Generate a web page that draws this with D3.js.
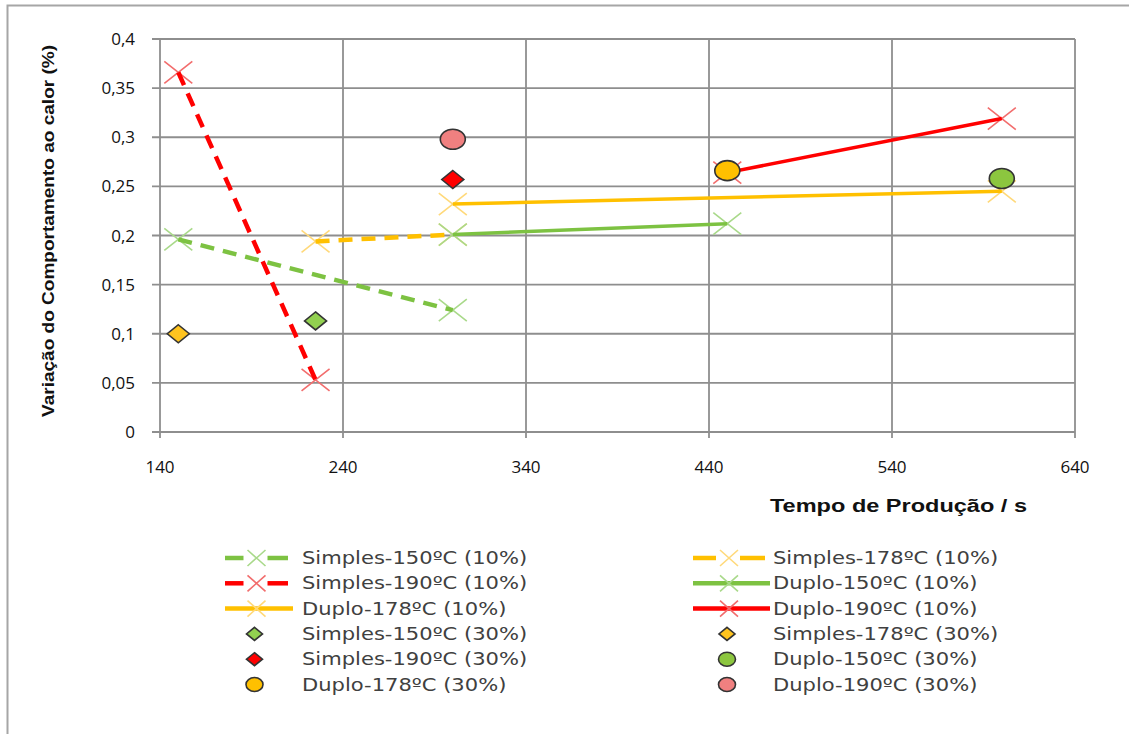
<!DOCTYPE html>
<html>
<head>
<meta charset="utf-8">
<script src="https://cdn.jsdelivr.net/npm/d3@7"></script>
<style>
  html, body { margin: 0; padding: 0; background: #fff; }
  svg { display: block; }
</style>
</head>
<body>
<div id="chart-container"></div>
<script>
// x / y ticks
const xTicks = [140, 240, 340, 440, 540, 640];
const yTicks = [0, 0.05, 0.1, 0.15, 0.2, 0.25, 0.3, 0.35, 0.4];
const yTickLabels = ['0', '0,05', '0,1', '0,15', '0,2', '0,25', '0,3', '0,35', '0,4'];

// 10% series (lines with X markers) - [tempo, variacao]
const simples150_10 = [[150, 0.196], [300, 0.124]];
const simples178_10 = [[225, 0.194], [300, 0.201]];
const simples190_10 = [[150, 0.366], [225, 0.053]];
const duplo150_10 = [[300, 0.201], [450, 0.212]];
const duplo178_10 = [[300, 0.232], [600, 0.245]];
const duplo190_10 = [[450, 0.264], [600, 0.319]];

// 30% series (single points)
const simples150_30 = [[225, 0.113]];
const simples178_30 = [[150, 0.100]];
const simples190_30 = [[300, 0.257]];
const duplo150_30 = [[600, 0.258]];
const duplo178_30 = [[450, 0.266]];
const duplo190_30 = [[300, 0.298]];

const seriesNames = [
    'Simples-150ºC (10%)', 'Simples-178ºC (10%)', 'Simples-190ºC (10%)',
    'Duplo-150ºC (10%)', 'Duplo-178ºC (10%)', 'Duplo-190ºC (10%)',
    'Simples-150ºC (30%)', 'Simples-178ºC (30%)', 'Simples-190ºC (30%)',
    'Duplo-150ºC (30%)', 'Duplo-178ºC (30%)', 'Duplo-190ºC (30%)'
];

const GREEN = '#7dc242', ORANGE = '#ffc000', RED = '#ff0000';

// series table (style per series)
const series = [
    { name: seriesNames[0], data: simples150_10, type: 'line', color: GREEN, xColor: '#a9d98a', dash: '14,9' },
    { name: seriesNames[1], data: simples178_10, type: 'line', color: ORANGE, xColor: '#ffd97a', dash: '14,9' },
    { name: seriesNames[2], data: simples190_10, type: 'line', color: RED, xColor: '#f26d6d', dash: '14,9' },
    { name: seriesNames[3], data: duplo150_10, type: 'line', color: GREEN, xColor: '#a9d98a', dash: null },
    { name: seriesNames[4], data: duplo178_10, type: 'line', color: ORANGE, xColor: '#ffd97a', dash: null },
    { name: seriesNames[5], data: duplo190_10, type: 'line', color: RED, xColor: '#f26d6d', dash: null },
    { name: seriesNames[6], data: simples150_30, type: 'diamond', color: '#92d050' },
    { name: seriesNames[7], data: simples178_30, type: 'diamond', color: '#ffc41f' },
    { name: seriesNames[8], data: simples190_30, type: 'diamond', color: '#ff0000' },
    { name: seriesNames[9], data: duplo150_30, type: 'circle', color: '#8cc63f' },
    { name: seriesNames[10], data: duplo178_30, type: 'circle', color: '#ffc000' },
    { name: seriesNames[11], data: duplo190_30, type: 'circle', color: '#f08080' }
];

const width = 1129, height = 734;
const plot = { left: 160, right: 1075, top: 39, bottom: 432 };

const svg = d3.select('#chart-container')
    .append('svg')
    .attr('width', width)
    .attr('height', height);

// outer frame (only top and left visible)
svg.append('path')
    .attr('d', `M7.5,740 V5.5 H1140`)
    .attr('fill', 'none')
    .attr('stroke', '#a6a6a6')
    .attr('stroke-width', 2);

const x = d3.scaleLinear().domain([140, 640]).range([plot.left, plot.right]);
const y = d3.scaleLinear().domain([0, 0.4]).range([plot.bottom, plot.top]);

const g = svg.append('g');

// grid lines
const gridColor = '#8e8e8e';
g.append('g')
    .selectAll('line')
    .data(yTicks)
    .enter()
    .append('line')
    .attr('x1', plot.left - 8)
    .attr('x2', plot.right)
    .attr('y1', d => y(d))
    .attr('y2', d => y(d))
    .attr('stroke', gridColor)
    .attr('stroke-width', 1.8);

g.append('g')
    .selectAll('line')
    .data(xTicks)
    .enter()
    .append('line')
    .attr('x1', d => x(d))
    .attr('x2', d => x(d))
    .attr('y1', plot.top)
    .attr('y2', plot.bottom + 6)
    .attr('stroke', gridColor)
    .attr('stroke-width', 1.8);

// tick labels
const tickFont = '"Open Sans", "Liberation Sans", sans-serif';
g.append('g')
    .selectAll('text')
    .data(yTicks)
    .enter()
    .append('text')
    .attr('x', plot.left - 25)
    .attr('y', d => y(d) + 6)
    .attr('text-anchor', 'end')
    .style('font-family', tickFont)
    .style('font-size', '17px')
    .style('fill', '#111')
    .text((d, i) => yTickLabels[i]);

g.append('g')
    .selectAll('text')
    .data(xTicks)
    .enter()
    .append('text')
    .attr('x', d => x(d))
    .attr('y', 473)
    .attr('text-anchor', 'middle')
    .style('font-family', tickFont)
    .style('font-size', '17px')
    .style('fill', '#111')
    .text(d => d);

// axis titles
svg.append('text')
    .attr('transform', 'translate(54,231) rotate(-90)')
    .attr('text-anchor', 'middle')
    .attr('textLength', 372)
    .attr('lengthAdjust', 'spacingAndGlyphs')
    .style('font-family', '"Liberation Sans", Arial, sans-serif')
    .style('font-weight', 'bold')
    .style('font-size', '17px')
    .style('fill', '#111')
    .text('Variação do Comportamento ao calor (%)');

svg.append('text')
    .attr('x', 770)
    .attr('y', 512)
    .attr('textLength', 257)
    .attr('lengthAdjust', 'spacingAndGlyphs')
    .style('font-family', '"Liberation Sans", Arial, sans-serif')
    .style('font-weight', 'bold')
    .style('font-size', '18px')
    .style('fill', '#111')
    .text('Tempo de Produção  / s');

// marker helpers
function xMarker(sel, cx, cy, w, h, color) {
    sel.append('path')
        .attr('d', `M${cx - w},${cy - h} L${cx + w},${cy + h} M${cx - w},${cy + h} L${cx + w},${cy - h}`)
        .attr('fill', 'none')
        .attr('stroke', color)
        .attr('stroke-width', 1.6);
}
function diamond(sel, cx, cy, w, h, color) {
    sel.append('path')
        .attr('d', `M${cx},${cy - h} L${cx + w},${cy} L${cx},${cy + h} L${cx - w},${cy} Z`)
        .attr('fill', color)
        .attr('stroke', '#333')
        .attr('stroke-width', 1.6);
}
function ellipse(sel, cx, cy, rx, ry, color) {
    sel.append('ellipse')
        .attr('cx', cx)
        .attr('cy', cy)
        .attr('rx', rx)
        .attr('ry', ry)
        .attr('fill', color)
        .attr('stroke', '#333')
        .attr('stroke-width', 1.6);
}

const line = d3.line()
    .x(d => x(d[0]))
    .y(d => y(d[1]));

// lines with X markers
const lineSeries = series.filter(s => s.type === 'line');
lineSeries.forEach(s => {
    s.data.forEach(d => xMarker(g, x(d[0]), y(d[1]), 14, 11, s.xColor));
});
lineSeries.forEach(s => {
    g.append('path')
        .datum(s.data)
        .attr('fill', 'none')
        .attr('stroke', s.color)
        .attr('stroke-width', s.dash ? 4.5 : 3.5)
        .attr('stroke-dasharray', s.dash)
        .attr('d', line);
});

// point series
series.filter(s => s.type !== 'line').forEach(s => {
    s.data.forEach(d => {
        if (s.type === 'diamond') diamond(g, x(d[0]), y(d[1]), 11, 9, s.color);
        else ellipse(g, x(d[0]), y(d[1]), 12.5, 10, s.color);
    });
});

// legend (two columns, row-major)
const legend = svg.append('g');
const colSym = [[225, 288], [693, 765]];
const colText = [302, 773];
const rowY = i => 558 + i * 25.3;

series.forEach((s, i) => {
    const col = i % 2;
    const row = Math.floor(i / 2);
    const cy = rowY(row);
    const [a, b] = colSym[col];
    const mid = (a + b) / 2;
    if (s.type === 'line') {
        if (s.dash) {
            legend.append('line').attr('x1', a).attr('x2', mid - 13).attr('y1', cy).attr('y2', cy)
                .attr('stroke', s.color).attr('stroke-width', 4.5);
            legend.append('line').attr('x1', mid + 11).attr('x2', b).attr('y1', cy).attr('y2', cy)
                .attr('stroke', s.color).attr('stroke-width', 4.5);
        } else {
            legend.append('line').attr('x1', a).attr('x2', b + 5).attr('y1', cy).attr('y2', cy)
                .attr('stroke', s.color).attr('stroke-width', 4.5);
        }
        xMarker(legend, mid, cy, 9, 8, s.xColor);
    } else if (s.type === 'diamond') {
        diamond(legend, mid - 2, cy, 8, 6.5, s.color);
    } else {
        ellipse(legend, mid - 2, cy, 8.5, 7, s.color);
    }
    legend.append('text')
        .attr('transform', `translate(${colText[col]},${cy + 6}) scale(1.24,1)`)
        .style('font-family', '"DejaVu Sans", Verdana, sans-serif')
        .style('font-size', '17px')
        .style('fill', '#404040')
        .text(s.name);
});
</script>
</body>
</html>
